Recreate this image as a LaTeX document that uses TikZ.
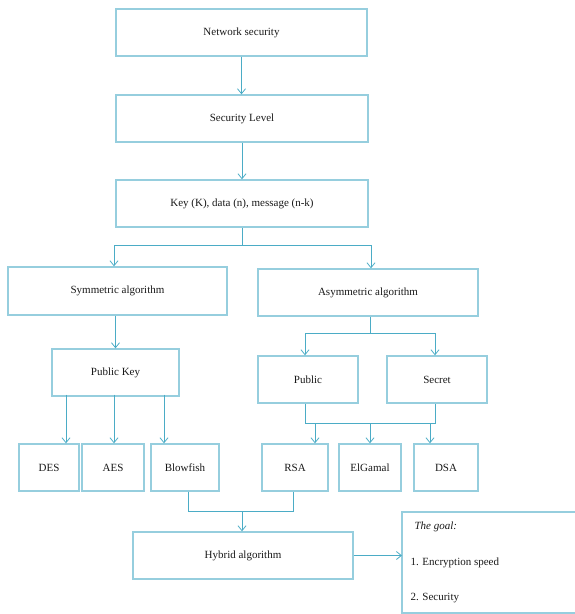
\documentclass[tikz,border=0pt]{standalone}
\usepackage{fontspec}
\setmainfont{Liberation Serif}
\usetikzlibrary{arrows.meta}
\definecolor{boxc}{RGB}{150,206,222}
\definecolor{linec}{RGB}{75,172,198}
\begin{document}
\begin{tikzpicture}[x=1pt,y=-1pt,
  box/.style={draw=boxc, line width=1.3pt, minimum height=47pt, inner sep=0pt, font=\fontsize{11}{13}\selectfont, text=black!90},
  conn/.style={draw=linec, line width=0.9pt},
  arr/.style={conn, -{Straight Barb[length=5pt,width=8pt,line width=0.8pt]}}]
\useasboundingbox (0,0) rectangle (574,614);
\node[box, minimum width=251pt] (ns) at (241.5,32.5) {Network security};
\node[box, minimum width=252pt] (sl) at (242,118.5) {Security Level};
\node[box, minimum width=252pt] (key) at (242,203.5) {Key (K), data (n), message (n-k)};
\node[box, minimum width=219pt, minimum height=48pt] (sym) at (117.5,291) {Symmetric algorithm};
\node[box, minimum width=220pt] (asym) at (368,292.5) {Asymmetric algorithm};
\node[box, minimum width=127pt] (pk) at (115.5,372.5) {Public Key};
\node[box, minimum width=100pt] (pub) at (308,379.5) {Public};
\node[box, minimum width=100pt] (sec) at (437,379.5) {Secret};
\node[box, minimum width=60pt] (des) at (49,467.5) {DES};
\node[box, minimum width=62pt] (aes) at (113,467.5) {AES};
\node[box, minimum width=68pt] (bf) at (185,467.5) {Blowfish};
\node[box, minimum width=66pt] (rsa) at (295,467.5) {RSA};
\node[box, minimum width=62pt] (elg) at (370,467.5) {ElGamal};
\node[box, minimum width=64pt] (dsa) at (446,467.5) {DSA};
\node[box, minimum width=220pt] (hyb) at (243,555.5) {Hybrid algorithm};
% goal box (runs off the right edge)
\coordinate (gw) at (402,556);
\draw[draw=boxc, line width=1.3pt] (576,512) -- (402,512) -- (402,613) -- (576,613);
\node[anchor=west, font=\fontsize{11}{13}\selectfont\itshape, text=black!90] (g0) at (411,527) {The goal:};
\node[anchor=west, font=\fontsize{11}{13}\selectfont, text=black!90] (g1) at (407,563) {1. Encryption speed};
\node[anchor=west, font=\fontsize{11}{13}\selectfont, text=black!90] (g2) at (407,598) {2. Security};
% helper coordinates
\coordinate (j1) at (242,245);
\coordinate (js) at (114,245);
\coordinate (ja) at (371,245);
\coordinate (xd) at (66,0);
\coordinate (xa) at (114,0);
\coordinate (xb) at (164,0);
\coordinate (j2) at (370,333);
\coordinate (xp) at (305,0);
\coordinate (xs) at (435,0);
\coordinate (yb) at (0,423);
\coordinate (xr) at (315,0);
\coordinate (xe) at (370,0);
\coordinate (xq) at (430,0);
\coordinate (xbf) at (188,0);
\coordinate (xrs) at (293,0);
\coordinate (yh) at (0,511);
\coordinate (xh) at (242,0);
% connectors
\draw[arr] (ns.south) -- (sl.north -| ns.south);
\draw[arr] (sl.south) -- (key.north);
\draw[conn] (key.south) -- (j1);
\draw[conn] (js) -- (ja);
\draw[arr] (js) -- (sym.north -| js);
\draw[arr] (ja) -- (asym.north -| ja);
\draw[arr] (sym.south -| pk) -- (pk.north);
\draw[arr] ([yshift=2pt]pk.south -| xd) -- (des.north -| xd);
\draw[arr] ([yshift=2pt]pk.south -| xa) -- (aes.north -| xa);
\draw[arr] ([yshift=2pt]pk.south -| xb) -- (bf.north -| xb);
\draw[conn] (asym.south -| j2) -- (j2);
\draw[conn] (j2 -| xp) -- (j2 -| xs);
\draw[arr] (j2 -| xp) -- (pub.north -| xp);
\draw[arr] (j2 -| xs) -- (sec.north -| xs);
\draw[conn] (pub.south -| xp) -- (yb -| xp) -- (yb -| xs) -- (sec.south -| xs);
\draw[arr] (yb -| xr) -- (rsa.north -| xr);
\draw[arr] (yb -| xe) -- (elg.north -| xe);
\draw[arr] (yb -| xq) -- (dsa.north -| xq);
\draw[conn] (bf.south -| xbf) -- (yh -| xbf) -- (yh -| xrs) -- (rsa.south -| xrs);
\draw[arr] (yh -| xh) -- (hyb.north -| xh);
\draw[arr] (hyb.east) -- (hyb.east -| gw);
\end{tikzpicture}
\end{document}
